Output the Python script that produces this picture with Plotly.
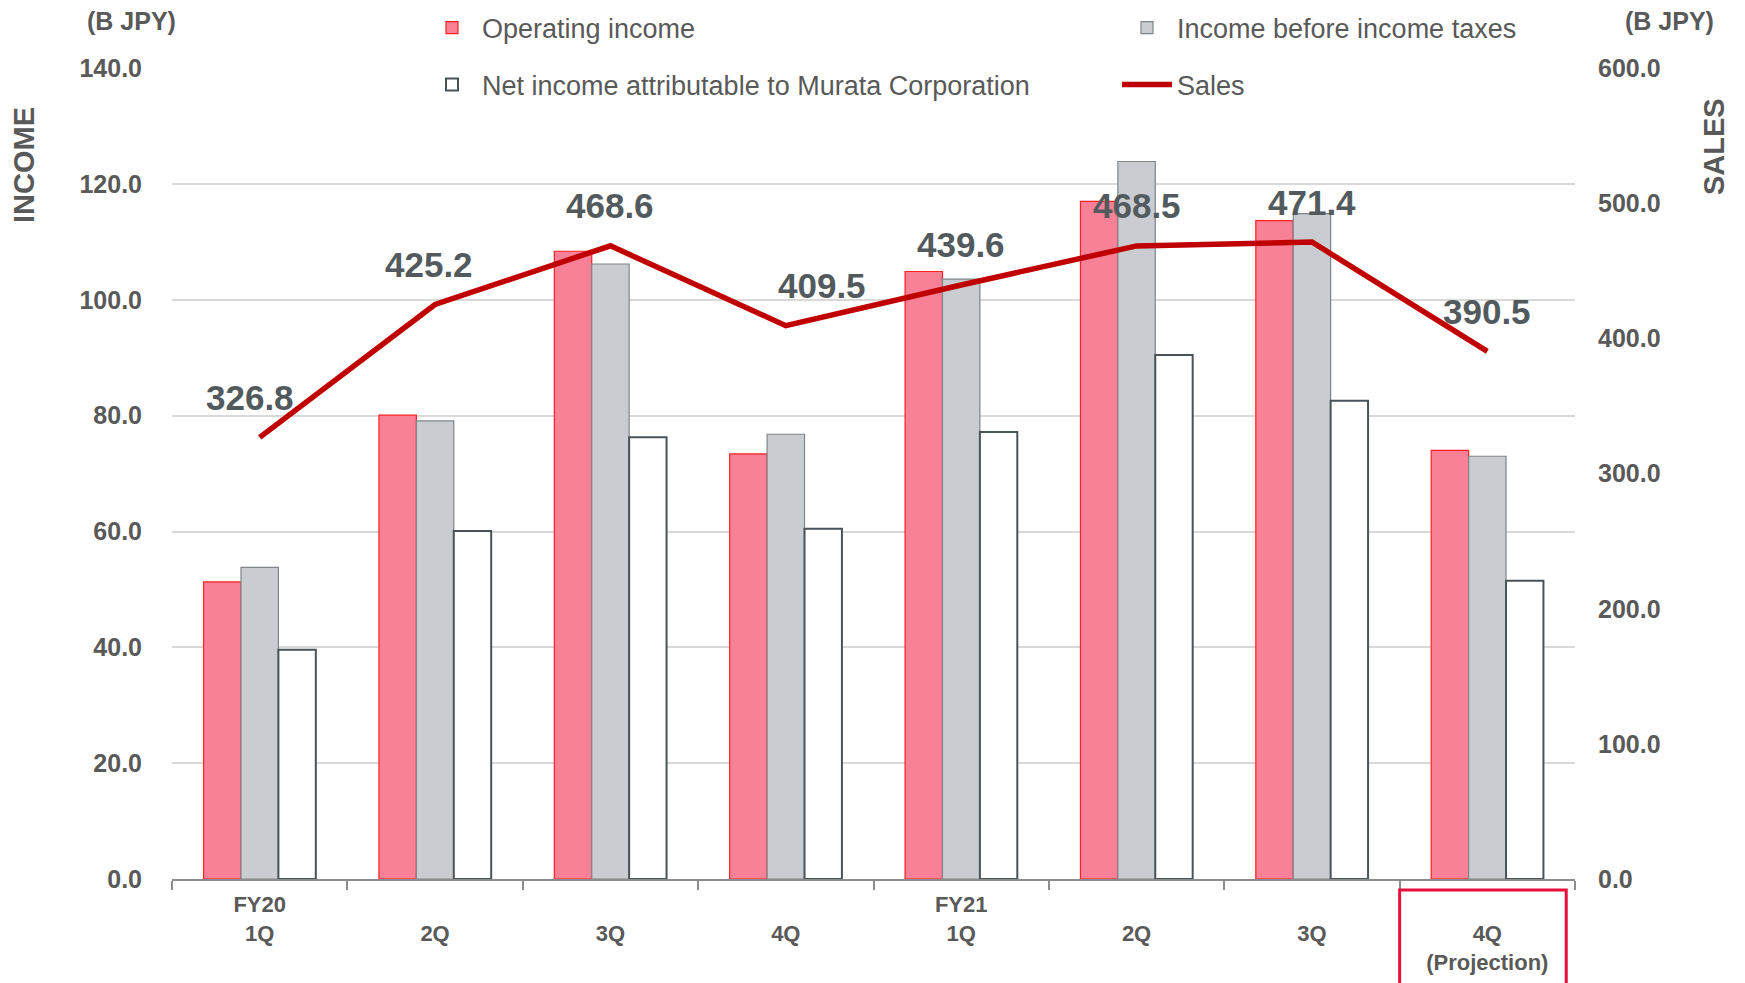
import plotly.graph_objects as go

# ---------------- data ----------------
categories = ["FY20 1Q", "FY20 2Q", "FY20 3Q", "FY20 4Q",
              "FY21 1Q", "FY21 2Q", "FY21 3Q", "FY21 4Q"]
tick_labels = ["FY20<br>1Q", "\u00a0<br>2Q", "\u00a0<br>3Q", "\u00a0<br>4Q",
               "FY21<br>1Q", "\u00a0<br>2Q", "\u00a0<br>3Q", "\u00a0<br>4Q<br>(Projection)"]
operating_income = [51.3, 80.1, 108.4, 73.4, 104.9, 117.0, 113.7, 74.0]
income_before_tax = [53.8, 79.1, 106.2, 76.8, 103.6, 123.9, 114.9, 73.0]
net_income = [39.6, 60.1, 76.3, 60.5, 77.2, 90.5, 82.6, 51.5]
sales = [326.8, 425.2, 468.6, 409.5, 439.6, 468.5, 471.4, 390.5]

# ---------------- layout geometry ----------------
# the page body has an 8px margin, so the figure sits at (8, 8) in the window
OFF = 8
W, H = 1745 - OFF, 983 - OFF
L, R, T, B = 164, 170, 60, 104
PW, PH = W - L - R, H - T - B


def px_x(px):  # window pixel -> paper fraction
    return (px - OFF - L) / PW


def px_y(py):
    return (H - B - (py - OFF)) / PH


TXT = "#595959"
FONT = "Liberation Sans, Arial, sans-serif"

fig = go.Figure()
fig.add_trace(go.Bar(
    x=categories, y=operating_income, name="Operating income",
    marker=dict(color="#F88097", line=dict(color="#FF2020", width=1.2)),
    legend="legend"))
fig.add_trace(go.Bar(
    x=categories, y=income_before_tax, name="Income before income taxes",
    marker=dict(color="#C9CDD1", line=dict(color="#7F8588", width=1.2)),
    legend="legend2"))
fig.add_trace(go.Bar(
    x=categories, y=net_income, name="Net income attributable to Murata Corporation",
    marker=dict(color="#FFFFFF", line=dict(color="#4A5358", width=2)),
    legend="legend3"))
fig.add_trace(go.Scatter(
    x=categories, y=sales, name="Sales", yaxis="y2", mode="lines",
    line=dict(color="#C00000", width=5.5),
    legend="legend4"))

label_xshift = {0: -10, 1: -6, 3: 36}
annotations = []
for i, (c, v) in enumerate(zip(categories, sales)):
    annotations.append(dict(
        x=c, y=v, xref="x", yref="y2", text=f"{v:.1f}", showarrow=False,
        xanchor="center", yanchor="middle", yshift=40,
        xshift=label_xshift.get(i, 0),
        font=dict(family=FONT, size=35, color="#525A5E", weight="bold")))

# axis titles / units
annotations += [
    dict(x=px_x(24), y=px_y(165), xref="paper", yref="paper", text="INCOME",
         textangle=-90, showarrow=False, xanchor="center", yanchor="middle",
         font=dict(family=FONT, size=29, color=TXT, weight="bold")),
    dict(x=px_x(1714), y=px_y(146), xref="paper", yref="paper", text="SALES",
         textangle=-90, showarrow=False, xanchor="center", yanchor="middle",
         font=dict(family=FONT, size=29, color=TXT, weight="bold")),
    dict(x=px_x(131), y=px_y(21), xref="paper", yref="paper", text="(B JPY)",
         showarrow=False, xanchor="center", yanchor="middle",
         font=dict(family=FONT, size=25, color=TXT, weight="bold")),
    dict(x=px_x(1669), y=px_y(21), xref="paper", yref="paper", text="(B JPY)",
         showarrow=False, xanchor="center", yanchor="middle",
         font=dict(family=FONT, size=25, color=TXT, weight="bold")),
]


def legend_at(x_px, y_px):
    return dict(orientation="h", xref="container", yref="container",
                x=(x_px - OFF) / W, y=1 - (y_px - OFF) / H,
                xanchor="left", yanchor="middle",
                itemwidth=50, font=dict(family=FONT, size=27, color=TXT),
                bgcolor="rgba(0,0,0,0)")


Y_TOP = 140 * 1.0003

fig.update_layout(
    width=W, height=H,
    showlegend=True,
    margin=dict(l=L, r=R, t=T, b=B, autoexpand=False),
    paper_bgcolor="white", plot_bgcolor="white",
    barmode="group", bargap=0.36, bargroupgap=0,
    font=dict(family=FONT, color=TXT),
    annotations=annotations,
    shapes=[dict(type="rect", xref="x", yref="paper",
                 x0=6.5, x1=7.45, y0=px_y(1000), y1=px_y(890),
                 line=dict(color="#E8103A", width=3))],
    legend=legend_at(422, 28),
    legend2=legend_at(1117, 28),
    legend3=legend_at(422, 85),
    legend4=legend_at(1117, 85),
    xaxis=dict(type="category", tickmode="array", tickvals=categories,
               ticktext=tick_labels, tickson="boundaries",
               ticks="outside", ticklen=9, tickcolor="#8C8C8C", tickwidth=2,
               showline=True, linecolor="#8C8C8C", linewidth=2,
               showgrid=False, range=[-0.5, 7.5], ticklabelstandoff=5,
               tickfont=dict(family=FONT, size=22, color=TXT, weight="bold")),
    yaxis=dict(range=[0, Y_TOP], tickmode="array",
               tickvals=[0, 20, 40, 60, 80, 100, 120, 140], tickformat=".1f",
               showgrid=True, gridcolor="#D9D9D9", gridwidth=1.5,
               zeroline=False, showline=False, ticks="",
               ticklabelstandoff=29,
               tickfont=dict(family=FONT, size=25, color=TXT, weight="bold")),
    yaxis2=dict(range=[0, 600 * Y_TOP / 140], tickmode="array",
                tickvals=[0, 100, 200, 300, 400, 500, 600], tickformat=".1f",
                overlaying="y",
                side="right", showgrid=False, zeroline=False, showline=False,
                ticks="", ticklabelstandoff=22,
                tickfont=dict(family=FONT, size=25, color=TXT, weight="bold")),
)

fig.write_html("out.html")
